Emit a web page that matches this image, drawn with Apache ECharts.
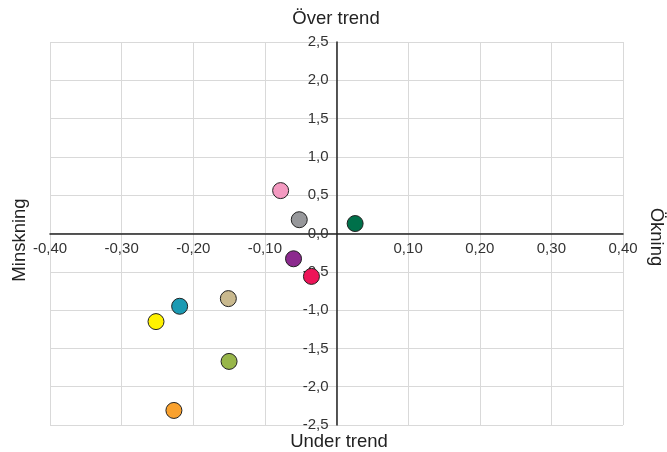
<!DOCTYPE html>
<html>
<head>
<meta charset="utf-8">
<script src="https://cdn.jsdelivr.net/npm/echarts@6/dist/echarts.min.js"></script>
<style>
html,body{margin:0;padding:0;background:#fff;}
#c{width:667px;height:452px;}
</style>
</head>
<body>
<div id="c"></div>
<script>
// Data
var xValues = [-0.078, -0.052, 0.026, -0.060, -0.035, -0.151, -0.219, -0.252, -0.150, -0.227];
var yValues = [0.56, 0.18, 0.13, -0.33, -0.56, -0.85, -0.95, -1.15, -1.67, -2.31];
var pointColors = ['#F49AC1', '#97989B', '#00704A', '#8C2A8E', '#ED1458', '#C9B98E', '#1B9AB3', '#FFF200', '#98B64A', '#F9A12E'];
var axisTitles = { top: 'Över trend', bottom: 'Under trend', left: 'Minskning', right: 'Ökning' };
var xMin = -0.4, xMax = 0.4, xStep = 0.1;
var yMin = -2.5, yMax = 2.5, yStep = 0.5;

var W = 667, H = 452;
var gridL = 50, gridR = 44, gridT = 42, gridB = 27;
var gridW = W - gridL - gridR, gridH = H - gridT - gridB;
// move axes (with their labels) to the zero crossing, derived from the scales
var xAxisOffset = -gridH * (0 - yMin) / (yMax - yMin);
var yAxisOffset = -gridW * (0 - xMin) / (xMax - xMin);

var chart = echarts.init(document.getElementById('c'), null, { renderer: 'canvas' });
var font = '"Liberation Sans", Arial, sans-serif';

var data = xValues.map(function (x, i) {
  return { value: [x, yValues[i]], itemStyle: { color: pointColors[i] } };
});

chart.setOption({
  animation: false,
  backgroundColor: '#fff',
  grid: { left: gridL, right: gridR, top: gridT, bottom: gridB, containLabel: false },
  xAxis: {
    type: 'value', min: xMin, max: xMax, interval: xStep,
    position: 'bottom', offset: xAxisOffset,
    axisLine: { onZero: false, lineStyle: { color: '#222', width: 1.5 } },
    axisTick: { show: false },
    splitLine: { show: true, lineStyle: { color: '#d9d9d9', width: 1 } },
    axisLabel: {
      margin: 8, fontSize: 15, color: '#333', fontFamily: font,
      showMinLabel: true, showMaxLabel: true,
      formatter: function (v) { return Math.abs(v) < 1e-9 ? '' : v.toFixed(2).replace('.', ','); }
    }
  },
  yAxis: {
    type: 'value', min: yMin, max: yMax, interval: yStep,
    position: 'left', offset: yAxisOffset,
    axisLine: { onZero: false, lineStyle: { color: '#222', width: 1.5 } },
    axisTick: { show: false },
    splitLine: { show: true, lineStyle: { color: '#d9d9d9', width: 1 } },
    axisLabel: {
      margin: 8, fontSize: 15, color: '#333', fontFamily: font,
      showMinLabel: true, showMaxLabel: true,
      formatter: function (v) { return v.toFixed(1).replace('.', ','); }
    }
  },
  graphic: [
    { type: 'text', x: 336, y: 19, style: { text: axisTitles.top, fontSize: 18.5, fontFamily: font, fill: '#222', align: 'center', verticalAlign: 'middle' } },
    { type: 'text', x: 339, y: 442, style: { text: axisTitles.bottom, fontSize: 18.5, fontFamily: font, fill: '#222', align: 'center', verticalAlign: 'middle' } },
    { type: 'text', x: 20, y: 240, rotation: Math.PI / 2, style: { text: axisTitles.left, fontSize: 18.5, fontFamily: font, fill: '#222', align: 'center', verticalAlign: 'middle' } },
    { type: 'text', x: 656, y: 237, rotation: -Math.PI / 2, style: { text: axisTitles.right, fontSize: 18.5, fontFamily: font, fill: '#222', align: 'center', verticalAlign: 'middle' } }
  ],
  series: [{
    type: 'scatter',
    symbolSize: 16,
    itemStyle: { borderColor: '#222', borderWidth: 1, opacity: 1 },
    data: data
  }]
});
</script>
</body>
</html>
